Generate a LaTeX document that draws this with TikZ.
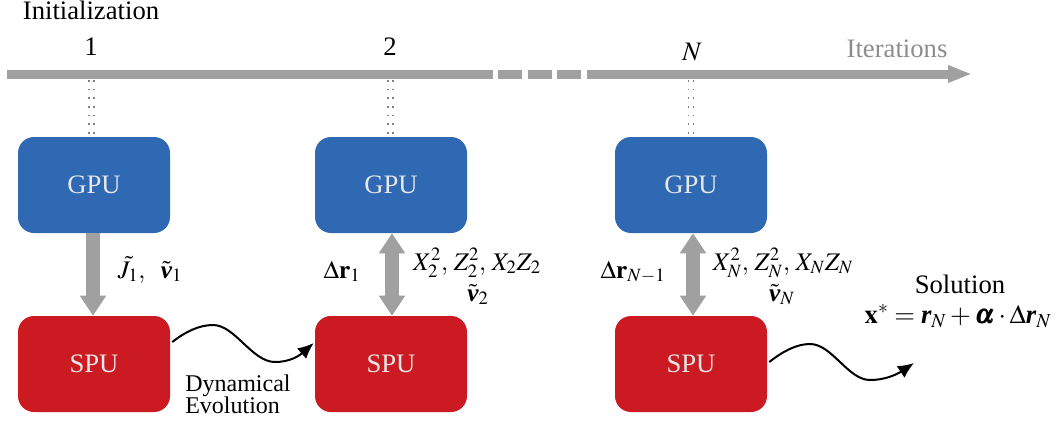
\documentclass[tikz,border=0pt]{standalone}
\usepackage{amsmath}
\usepackage{mathptmx}
\usepackage{bm}
\usepackage[no-math]{fontspec}
\setmainfont{Liberation Serif}
\usetikzlibrary{arrows.meta,calc}
\definecolor{gpublue}{HTML}{2F68B3}
\definecolor{spured}{HTML}{CC1A22}
\definecolor{bargray}{HTML}{A0A0A0}
\definecolor{dotgray}{HTML}{808080}
\definecolor{labelgray}{HTML}{8C8C8C}
\definecolor{boxtext}{HTML}{E8E8E8}
% bold italic letters for vectors
\newcommand{\bvec}[1]{\text{\bfseries\itshape #1}}
\begin{document}
\begin{tikzpicture}[x=0.75pt,y=-0.75pt,
  font=\fontsize{20}{24}\selectfont,
  unit/.style={rounded corners=12pt, minimum width=114pt, minimum height=72pt,
    inner sep=0pt, text=boxtext},
  gpu/.style={unit, fill=gpublue},
  spu/.style={unit, fill=spured},
  timebar/.style={draw=bargray, line width=6.75pt, line cap=butt},
  dotcol/.style={draw=dotgray, line width=1.2pt, dash pattern=on 1.2pt off 5.3pt},
  link/.style={draw=bargray, line width=10.5pt},
  tipg/.tip={Triangle[length=15pt, width=18.75pt]},
  wave/.style={draw=black, line width=1.5pt, -{Latex[length=12pt, width=10.5pt]}},
  lbl/.style={anchor=base, inner sep=0pt},
  mlbl/.style={lbl, font=\fontsize{19}{22}\selectfont}]
\useasboundingbox (0,0) rectangle (1056,421);

% iteration axis
\coordinate (a0) at (7,74);
\coordinate (a1) at (493,74);
\coordinate (a2) at (587,74);
\coordinate (a3) at (972,74);
\draw[timebar] (a0) -- (a1);
\draw[timebar] (498,74) -- (522,74);
\draw[timebar] (528,74) -- (552,74);
\draw[timebar] (557,74) -- (581,74);
\draw[timebar, -{Triangle[length=18pt, width=12pt]}] (a2) -- (a3);

\node[lbl] (init) at (91,19) {Initialization};
\node[lbl] (n1) at (91,55) {1};
\node[lbl] (n2) at (390,55) {2};
\node[lbl] (nN) at (692,60) {$N$};
\node[lbl, text=labelgray] (iter) at (897,57) {Iterations};

% processing units
\node[gpu] (g1) at (94,185) {GPU};
\node[gpu] (g2) at (391,185) {GPU};
\node[gpu] (g3) at (691,185) {GPU};
\node[spu] (s1) at (94,364) {SPU};
\node[spu] (s2) at (391,364) {SPU};
\node[spu] (s3) at (691,364) {SPU};

% dotted ticks from the axis down to each GPU
\coordinate (t1) at (91.5,80);
\coordinate (t2) at (390.5,80);
\coordinate (t3) at (691,80);
\foreach \t/\g in {t1/g1,t2/g2,t3/g3}{
  \draw[dotcol] ([xshift=-1.9pt]\t) -- ([xshift=-1.9pt]\t |- \g.north);
  \draw[dotcol] ([xshift=1.9pt]\t) -- ([xshift=1.9pt]\t |- \g.north);
}

% data exchange between GPU and SPU
\draw[link, -tipg] ([xshift=-0.75pt]g1.south) -- ([xshift=-0.75pt]s1.north);
\draw[link, tipg-tipg] ([xshift=0.75pt]g2.south) -- ([xshift=0.75pt]s2.north);
\draw[link, tipg-tipg] ([xshift=1.5pt]g3.south) -- ([xshift=1.5pt]s3.north);

\node[mlbl] (lj) at (150,278) {$\tilde J_1,\ \ \tilde{\bvec{v}}_1$};
\node[mlbl] (lr1) at (342,278) {$\Delta\mathbf r_1$};
\node[mlbl] (lx2) at (477,270) {$X_2^2,\, Z_2^2,\, X_2Z_2$};
\node[mlbl] (lv2) at (478,301) {$\tilde{\bvec{v}}_2$};
\node[mlbl] (lrN) at (633,278) {$\Delta\mathbf r_{N-1}$};
\node[mlbl] (lxN) at (783,270) {$X_N^2,\, Z_N^2,\, X_NZ_N$};
\node[mlbl] (lvN) at (782,301) {$\tilde{\bvec{v}}_N$};

% dynamical evolution between iterations
\draw[wave] ($(s1.east)+(2,-22)$)
  .. controls (185,332) and (199,325) .. (213,325)
  .. controls (235,325) and (252,362) .. (275,362)
  .. controls (291,362) and (300,355) .. ($(s2.west)+(-1,-21)$);
\node[anchor=north west, align=left, inner sep=0pt,
  font=\fontsize{18}{16.5}\selectfont] (dyn) at (185,375) {Dynamical\\Evolution};

% final solution
\coordinate (fin) at (914,363);
\draw[wave] ($(s3.east)+(2,-2)$)
  .. controls (782,352) and (796,344) .. (810,344)
  .. controls (832,344) and (848,380) .. (870,380)
  .. controls (887,380) and (899,373) .. (fin);
\node[lbl] (sol) at (960,293) {Solution};
\node[lbl] (xs) at (958,323) {$\mathbf x^* = \bvec{r}_N + \bm\alpha\cdot\Delta\bvec{r}_N$};
\end{tikzpicture}
\end{document}
